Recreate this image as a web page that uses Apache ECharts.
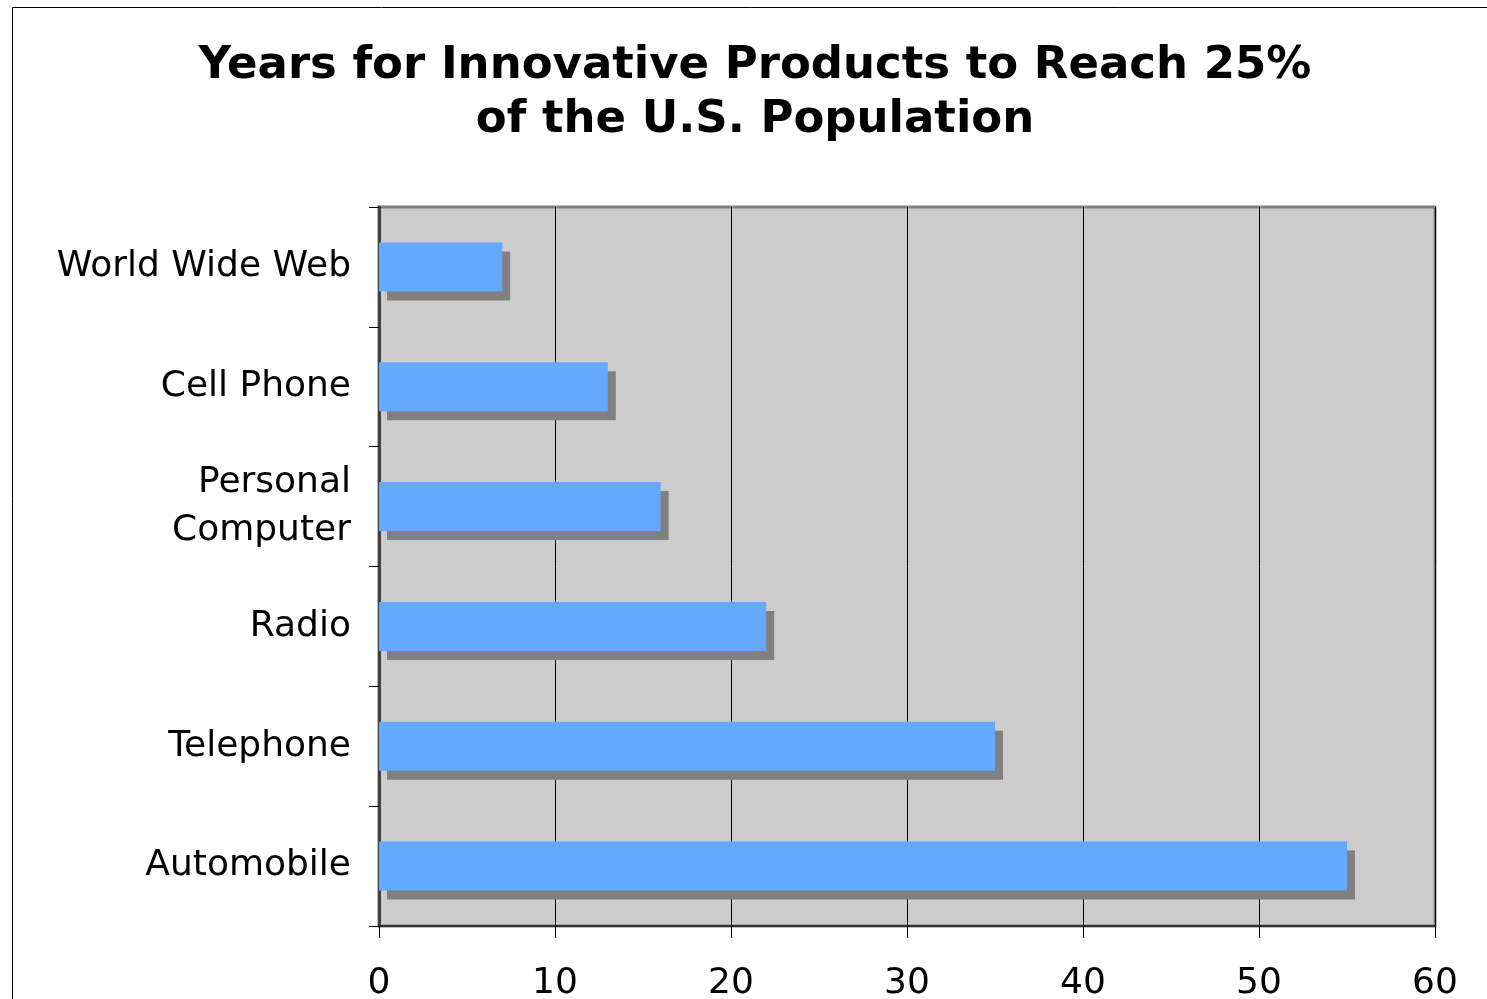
<!DOCTYPE html>
<html>
<head>
<meta charset="utf-8">
<script src="https://cdn.jsdelivr.net/npm/echarts@6/dist/echarts.min.js"></script>
<style>
  html, body { margin: 0; padding: 0; background: #fff; }
  #chart { width: 1487px; height: 999px; }
</style>
</head>
<body>
<div id="chart"></div>
<script>
// chart data
var products = ['World Wide Web', 'Cell Phone', 'Personal\nComputer', 'Radio', 'Telephone', 'Automobile'];
var years = [7, 13, 16, 22, 35, 55];
var xTicks = [0, 10, 20, 30, 40, 50, 60];

var myChart = echarts.init(document.getElementById('chart'), null, {renderer: 'canvas'});

var option = {
    animation: false,
    backgroundColor: '#fff',
    title: {
        text: 'Years for Innovative Products to Reach 25%\nof the U.S. Population',
        left: 755,
        textAlign: 'center',
        top: 39,
        padding: 0,
        textStyle: {
            fontFamily: 'DejaVu Sans',
            fontWeight: 'bold',
            fontSize: 45,
            lineHeight: 54,
            color: '#000'
        }
    },
    graphic: [{
        // outer frame of the slide
        type: 'rect',
        silent: true,
        shape: {x: 12.5, y: 7.5, width: 1600, height: 1100},
        style: {fill: 'none', stroke: '#000', lineWidth: 1}
    }],
    grid: {
        left: 379,
        top: 207,
        right: 52,
        bottom: 73,
        outerBoundsMode: 'none',
        containLabel: false,
        show: true,
        backgroundColor: '#cccccc',
        borderColor: '#808080',
        borderWidth: 3
    },
    xAxis: {
        type: 'value',
        min: xTicks[0],
        max: xTicks[xTicks.length - 1],
        interval: 10,
        axisLine: {show: true, onZero: false, lineStyle: {color: '#303030', width: 2}},
        axisTick: {show: true, length: 12, lineStyle: {color: '#000', width: 1}},
        axisLabel: {
            margin: 40,
            fontFamily: 'DejaVu Sans',
            fontSize: 36,
            color: '#000'
        },
        splitLine: {show: true, lineStyle: {color: '#000', width: 1}}
    },
    yAxis: {
        type: 'category',
        data: products,
        inverse: true,
        axisLine: {show: true, lineStyle: {color: '#404040', width: 3}},
        axisTick: {show: true, length: 10, lineStyle: {color: '#000', width: 1}},
        axisLabel: {
            margin: 28,
            fontFamily: 'DejaVu Sans',
            fontSize: 36,
            lineHeight: 48,
            color: '#000',
            align: 'right'
        },
        splitLine: {show: false}
    },
    series: [{
        name: 'Years',
        type: 'bar',
        data: years,
        barWidth: 49,
        itemStyle: {
            color: '#62a9ff',
            shadowColor: '#808080',
            shadowBlur: 0,
            shadowOffsetX: 8,
            shadowOffsetY: 9
        }
    }]
};

myChart.setOption(option);
</script>
</body>
</html>
